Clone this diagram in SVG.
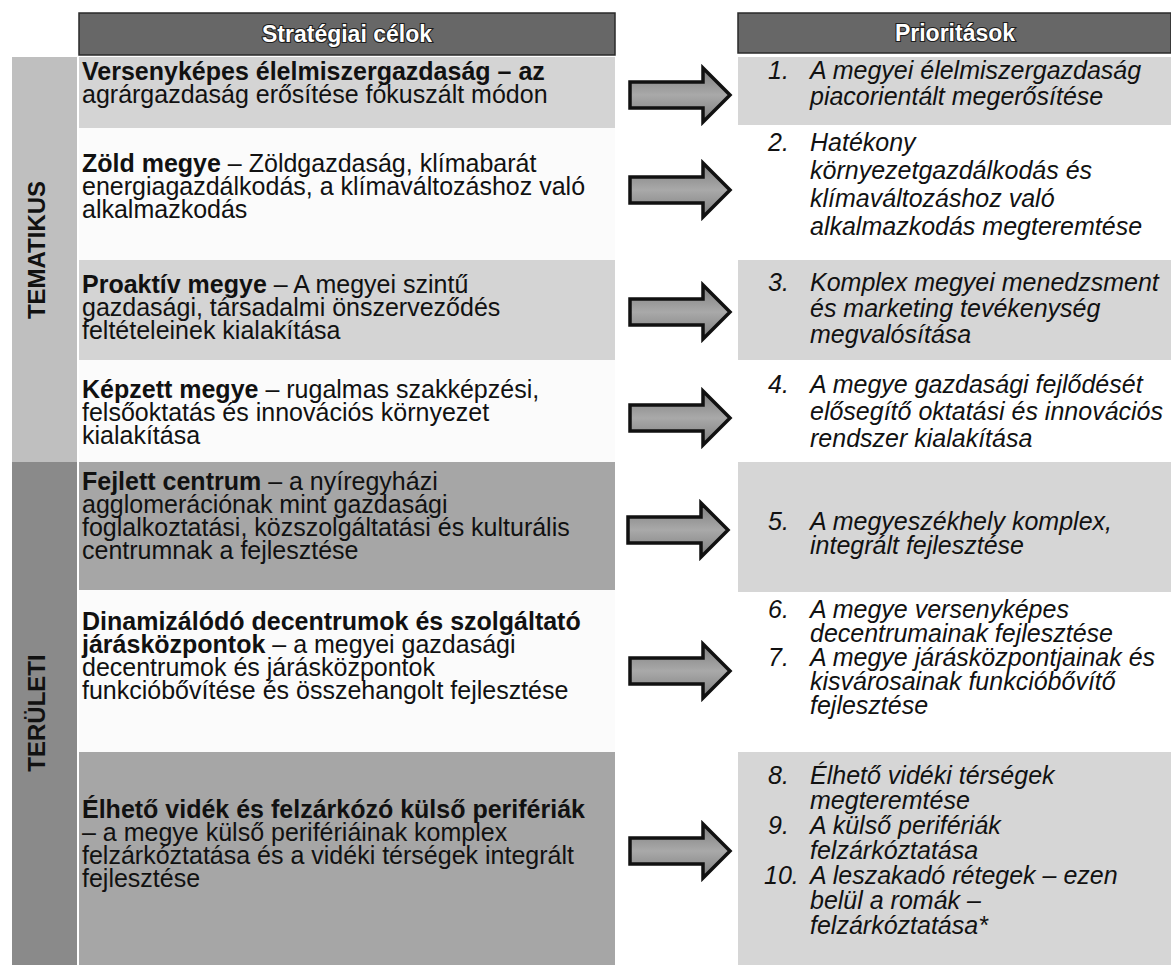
<svg xmlns="http://www.w3.org/2000/svg" width="1171" height="965" viewBox="0 0 1171 965">
<style>
.bg{fill:#ffffff}
.hdr{fill:#676767;stroke:#2a2a2a;stroke-width:1.5}
.ht{font-family:"Liberation Sans",Arial,sans-serif;font-weight:bold;font-size:23px;fill:#ffffff;stroke:#1e1e1e;stroke-width:2.2;paint-order:stroke;text-anchor:middle}
.band1{fill:#bfbfbf}
.band2{fill:#8a8a8a}
.vl{font-family:"Liberation Sans",Arial,sans-serif;font-weight:bold;font-size:24px;fill:#111;text-anchor:middle}
.lg{fill:#d4d4d4}
.dg{fill:#a6a6a6}
.wh{fill:#fbfbfb}
.rg{fill:#d6d6d6}
.t{font-family:"Liberation Sans",Arial,sans-serif;font-size:25px;fill:#111}
.b{font-weight:bold}
.it{font-family:"Liberation Sans",Arial,sans-serif;font-size:25px;font-style:italic;fill:#111}
.arr{fill:url(#ag);stroke:#111;stroke-width:3.5;stroke-linejoin:miter}
</style>
<defs>
<linearGradient id="ag" x1="0" y1="0" x2="0" y2="1">
<stop offset="0" stop-color="#7d7d7d"/>
<stop offset="0.5" stop-color="#a9a9a9"/>
<stop offset="1" stop-color="#7d7d7d"/>
</linearGradient>
<polygon id="ar" points="0,-13 73,-13 73,-27 100,0 73,27 73,13 0,13"/>
</defs>
<rect class="bg" x="0" y="0" width="1171" height="965"/>

<g id="header-left">
<rect class="hdr" x="79" y="13" width="536" height="42"/>
<text class="ht" x="347" y="42">Stratégiai célok</text>
</g>
<g id="header-right">
<rect class="hdr" x="738" y="13" width="433" height="40"/>
<text class="ht" x="955" y="41">Prioritások</text>
</g>

<g id="band-tematikus">
<rect class="band1" x="12" y="57" width="65" height="405"/>
<text class="vl" transform="translate(45,250) rotate(-90)">TEMATIKUS</text>
</g>
<g id="band-teruleti">
<rect class="band2" x="12" y="462" width="65" height="503"/>
<text class="vl" transform="translate(45,713) rotate(-90)">TERÜLETI</text>
</g>

<g id="goal-1">
<rect class="lg" x="79" y="57" width="536" height="71"/>
<text class="t" x="82" y="80"><tspan class="b">Versenyképes élelmiszergazdaság – az</tspan><tspan x="82" dy="23">agrárgazdaság erősítése fókuszált módon</tspan></text>
</g>
<g id="goal-2">
<rect class="wh" x="79" y="128" width="536" height="132"/>
<text class="t" x="82" y="172"><tspan class="b">Zöld megye</tspan> – Zöldgazdaság, klímabarát<tspan x="82" dy="23">energiagazdálkodás, a klímaváltozáshoz való</tspan><tspan x="82" dy="23">alkalmazkodás</tspan></text>
</g>
<g id="goal-3">
<rect class="lg" x="79" y="260" width="536" height="100"/>
<text class="t" x="82" y="293"><tspan class="b">Proaktív megye</tspan> – A megyei szintű<tspan x="82" dy="23">gazdasági, társadalmi önszerveződés</tspan><tspan x="82" dy="23">feltételeinek kialakítása</tspan></text>
</g>
<g id="goal-4">
<rect class="wh" x="79" y="360" width="536" height="102"/>
<text class="t" x="82" y="398"><tspan class="b">Képzett megye</tspan> – rugalmas szakképzési,<tspan x="82" dy="23">felsőoktatás és innovációs környezet</tspan><tspan x="82" dy="23">kialakítása</tspan></text>
</g>
<g id="goal-5">
<rect class="dg" x="79" y="462" width="536" height="128"/>
<text class="t" x="82" y="490"><tspan class="b">Fejlett centrum</tspan> – a nyíregyházi<tspan x="82" dy="23">agglomerációnak mint gazdasági</tspan><tspan x="82" dy="23">foglalkoztatási, közszolgáltatási és kulturális</tspan><tspan x="82" dy="23">centrumnak a fejlesztése</tspan></text>
</g>
<g id="goal-6">
<rect class="wh" x="79" y="590" width="536" height="162"/>
<text class="t" x="82" y="630"><tspan class="b">Dinamizálódó decentrumok és szolgáltató</tspan><tspan x="82" dy="23" class="b">járásközpontok</tspan><tspan> – a megyei gazdasági</tspan><tspan x="82" dy="23">decentrumok és járásközpontok</tspan><tspan x="82" dy="23">funkcióbővítése és összehangolt fejlesztése</tspan></text>
</g>
<g id="goal-7">
<rect class="dg" x="79" y="752" width="536" height="213"/>
<text class="t" x="82" y="818"><tspan class="b">Élhető vidék és felzárkózó külső perifériák</tspan><tspan x="82" dy="23">– a megye külső perifériáinak komplex</tspan><tspan x="82" dy="23">felzárkóztatása és a vidéki térségek integrált</tspan><tspan x="82" dy="23">fejlesztése</tspan></text>
</g>

<g id="priority-1">
<rect class="rg" x="738" y="57" width="433" height="68"/>
<text class="it" x="768" y="79">1.</text>
<text class="it" x="810" y="79">A megyei élelmiszergazdaság<tspan x="810" dy="26">piacorientált megerősítése</tspan></text>
</g>
<g id="priority-2">
<text class="it" x="768" y="151">2.</text>
<text class="it" x="810" y="151">Hatékony<tspan x="810" dy="28">környezetgazdálkodás és</tspan><tspan x="810" dy="28">klímaváltozáshoz való</tspan><tspan x="810" dy="28">alkalmazkodás megteremtése</tspan></text>
</g>
<g id="priority-3">
<rect class="rg" x="738" y="260" width="433" height="100"/>
<text class="it" x="768" y="291">3.</text>
<text class="it" x="810" y="291">Komplex megyei menedzsment<tspan x="810" dy="26">és marketing tevékenység</tspan><tspan x="810" dy="26">megvalósítása</tspan></text>
</g>
<g id="priority-4">
<text class="it" x="768" y="393">4.</text>
<text class="it" x="810" y="393">A megye gazdasági fejlődését<tspan x="810" dy="27">elősegítő oktatási és innovációs</tspan><tspan x="810" dy="27">rendszer kialakítása</tspan></text>
</g>
<g id="priority-5">
<rect class="rg" x="738" y="462" width="433" height="130"/>
<text class="it" x="768" y="530">5.</text>
<text class="it" x="810" y="530">A megyeszékhely komplex,<tspan x="810" dy="24">integrált fejlesztése</tspan></text>
</g>
<g id="priority-6-7">
<text class="it" x="768" y="618">6.</text>
<text class="it" x="810" y="618">A megye versenyképes<tspan x="810" dy="24">decentrumainak fejlesztése</tspan></text>
<text class="it" x="768" y="666">7.</text>
<text class="it" x="810" y="666">A megye járásközpontjainak és<tspan x="810" dy="24">kisvárosainak funkcióbővítő</tspan><tspan x="810" dy="24">fejlesztése</tspan></text>
</g>
<g id="priority-8-10">
<rect class="rg" x="738" y="752" width="433" height="213"/>
<text class="it" x="768" y="784">8.</text>
<text class="it" x="810" y="784">Élhető vidéki térségek<tspan x="810" dy="25">megteremtése</tspan></text>
<text class="it" x="768" y="834">9.</text>
<text class="it" x="810" y="834">A külső perifériák<tspan x="810" dy="25">felzárkóztatása</tspan></text>
<text class="it" x="764" y="884">10.</text>
<text class="it" x="810" y="884">A leszakadó rétegek – ezen<tspan x="810" dy="25">belül a romák –</tspan><tspan x="810" dy="25">felzárkóztatása*</tspan></text>
</g>

<g id="connectors">
<use href="#ar" class="arr" x="630" y="95"/>
<use href="#ar" class="arr" x="630" y="190"/>
<use href="#ar" class="arr" x="630" y="312"/>
<use href="#ar" class="arr" x="630" y="418"/>
<use href="#ar" class="arr" x="628" y="530"/>
<use href="#ar" class="arr" x="630" y="671"/>
<use href="#ar" class="arr" x="630" y="851"/>
</g>
</svg>
